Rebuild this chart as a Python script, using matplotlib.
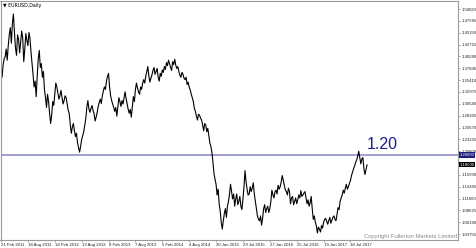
import numpy as np
import matplotlib
matplotlib.use("Agg")
import matplotlib.pyplot as plt
import matplotlib.transforms as mtransforms

plt.rcParams['font.family'] = ['Liberation Sans', 'DejaVu Sans']

prices = [
    1.370, 1.360, 1.385, 1.398, 1.402, 1.418, 1.395, 1.425, 1.448, 1.462,
    1.430, 1.470, 1.490, 1.452, 1.420, 1.405, 1.447, 1.438, 1.410, 1.432,
    1.455, 1.440, 1.392, 1.418, 1.450, 1.436, 1.425, 1.452, 1.440, 1.412,
    1.389, 1.365, 1.340, 1.352, 1.320, 1.362, 1.398, 1.415, 1.380, 1.388,
    1.360, 1.372, 1.335, 1.318, 1.298, 1.325, 1.310, 1.285, 1.265, 1.282,
    1.310, 1.302, 1.325, 1.348, 1.340, 1.328, 1.315, 1.322, 1.333, 1.318,
    1.305, 1.312, 1.322, 1.318, 1.305, 1.292, 1.285, 1.262, 1.245, 1.258,
    1.265, 1.250, 1.238, 1.245, 1.225, 1.215, 1.206, 1.218, 1.232, 1.240,
    1.248, 1.262, 1.275, 1.298, 1.312, 1.295, 1.288, 1.296, 1.302, 1.292,
    1.285, 1.270, 1.278, 1.288, 1.300, 1.308, 1.315, 1.306, 1.322, 1.332,
    1.340, 1.335, 1.352, 1.362, 1.368, 1.340, 1.322, 1.312, 1.305, 1.298,
    1.290, 1.298, 1.280, 1.300, 1.318, 1.310, 1.300, 1.312, 1.305, 1.318,
    1.330, 1.316, 1.305, 1.294, 1.286, 1.294, 1.278, 1.300, 1.320, 1.310,
    1.335, 1.348, 1.338, 1.330, 1.325, 1.340, 1.335, 1.348, 1.355, 1.348,
    1.362, 1.372, 1.382, 1.362, 1.350, 1.358, 1.365, 1.374, 1.380, 1.366,
    1.372, 1.378, 1.360, 1.352, 1.368, 1.362, 1.375, 1.370, 1.382, 1.376,
    1.390, 1.384, 1.395, 1.388, 1.380, 1.374, 1.392, 1.386, 1.397, 1.385,
    1.378, 1.382, 1.372, 1.364, 1.360, 1.370, 1.366, 1.358, 1.355, 1.360,
    1.345, 1.350, 1.340, 1.334, 1.325, 1.318, 1.310, 1.296, 1.290, 1.280,
    1.272, 1.284, 1.282, 1.276, 1.272, 1.262, 1.250, 1.265, 1.262, 1.248,
    1.255, 1.240, 1.225, 1.218, 1.205, 1.185, 1.162, 1.150, 1.140, 1.118,
    1.130, 1.100, 1.085, 1.062, 1.048, 1.065, 1.080, 1.090, 1.072, 1.095,
    1.105, 1.120, 1.140, 1.125, 1.110, 1.120, 1.095, 1.110, 1.120, 1.098,
    1.105, 1.115, 1.095, 1.088, 1.110, 1.135, 1.168, 1.145, 1.130, 1.118,
    1.120, 1.135, 1.125, 1.132, 1.143, 1.120, 1.105, 1.090, 1.075, 1.068,
    1.065, 1.075, 1.056, 1.070, 1.090, 1.098, 1.082, 1.090, 1.095, 1.082,
    1.090, 1.105, 1.128, 1.118, 1.112, 1.125, 1.128, 1.120, 1.138, 1.130,
    1.135, 1.145, 1.158, 1.148, 1.138, 1.128, 1.125, 1.118, 1.132, 1.125,
    1.100, 1.112, 1.115, 1.098, 1.105, 1.112, 1.100, 1.108, 1.118, 1.112,
    1.127, 1.115, 1.118, 1.122, 1.125, 1.112, 1.100, 1.108, 1.095, 1.102,
    1.115, 1.090, 1.068, 1.075, 1.062, 1.055, 1.040, 1.052, 1.048, 1.042,
    1.055, 1.050, 1.062, 1.068, 1.070, 1.064, 1.058, 1.065, 1.072, 1.060,
    1.066, 1.072, 1.075, 1.068, 1.065, 1.078, 1.092, 1.088, 1.105, 1.112,
    1.118, 1.128, 1.122, 1.132, 1.140, 1.130, 1.135, 1.142, 1.148, 1.158,
    1.165, 1.172, 1.178, 1.185, 1.190, 1.198, 1.208, 1.195, 1.182, 1.192,
    1.195, 1.172, 1.160, 1.170, 1.180,
]

date_labels = ["21 Feb 2011", "18 Aug 2011", "14 Feb 2012", "13 Aug 2012",
               "8 Feb 2013", "7 Aug 2013", "5 Feb 2014", "4 Aug 2014",
               "30 Jan 2015", "29 Jul 2015", "27 Jan 2016", "25 Jul 2016",
               "19 Jan 2017", "18 Jul 2017"]

price_labels = ["1.50020", "1.47585", "1.45150", "1.42715", "1.40280",
                "1.37845", "1.35410", "1.32975", "1.30540", "1.28105",
                "1.25670", "1.23235", "1.20800", "1.18365", "1.15930",
                "1.13495", "1.11060", "1.08625", "1.06190", "1.03755"]

level = 1.20
level_text = "1.20"
level_box = "1.20000"
title = "EURUSD,Daily"
copyright_text = "Copyright Fullerton Markets Limited"

W, H = 476, 248
fig = plt.figure(figsize=(W / 100, H / 100), dpi=100)
ax = fig.add_axes([0.5 / W, 1 - 240 / H, 457.5 / W, 239 / H])

x = np.arange(len(prices))
ax.plot(x, prices, color='black', lw=0.8)
ax.axhline(level, color='#9898cc', lw=1.3, zorder=1)

ax.set_xlim(-0.5, 442)
ax.set_ylim(1.0255, 1.5167)

tick_step = 26
ax.set_xticks(np.arange(len(date_labels)) * tick_step)
ax.set_xticklabels(date_labels, fontsize=3.1, color='#222222')
for lbl in ax.get_xticklabels():
    lbl.set_horizontalalignment('left')

ax.yaxis.tick_right()
ax.set_yticks([float(v) for v in price_labels])
ax.set_yticklabels(price_labels, fontsize=3.1, color='#222222')
ax.tick_params(axis='both', length=1.5, width=0.5, color='#888888', pad=0.8)

# the tick label hidden under the current-price box in the reference
last = prices[-1]
for val, lbl in zip(price_labels, ax.get_yticklabels()):
    if abs(float(val) - last) < 0.006:
        lbl.set_visible(False)

for s in ax.spines.values():
    s.set_color('#9a9a9a')
    s.set_linewidth(0.8)

# 1.20 annotation
ax.text(366 / 1.035, level + 0.006, level_text, color='#1c1c8a', fontsize=11.5,
        ha='left', va='bottom')

trans = mtransforms.blended_transform_factory(ax.transAxes, ax.transData)
ax.text(1.003, level, level_box, transform=trans, fontsize=3.1, color='white',
        va='center', ha='left', zorder=6, clip_on=False,
        bbox=dict(boxstyle='square,pad=0.15', facecolor='#1c1c7c', edgecolor='none'))
ax.text(1.003, last, f"{last:.5f}", transform=trans, fontsize=3.1,
        color='white', va='center', ha='left', zorder=6, clip_on=False,
        bbox=dict(boxstyle='square,pad=0.15', facecolor='black', edgecolor='none'))

ax.text(0.997, 0.004, copyright_text, transform=ax.transAxes, fontsize=4.2,
        color='#8a8a8a', ha='right', va='bottom')

fig.text(3 / W, 1 - 5 / H, "\u25bc " + title, fontsize=3.4, color='black',
         ha='left', va='center', family=['DejaVu Sans'])

fig.savefig("out.png", dpi=100, facecolor='white')
